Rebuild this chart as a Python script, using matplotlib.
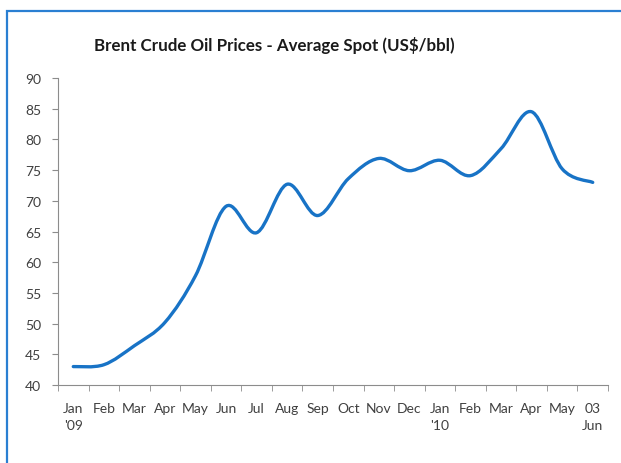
import numpy as np
import matplotlib
matplotlib.use("Agg")
import matplotlib.pyplot as plt
from matplotlib.path import Path
from matplotlib.patches import PathPatch, Rectangle

# monthly average spot, US$/bbl
months = ["Jan\n'09", "Feb", "Mar", "Apr", "May", "Jun", "Jul", "Aug", "Sep",
          "Oct", "Nov", "Dec", "Jan\n'10", "Feb", "Mar", "Apr", "May", "03\nJun"]
prices = [43.0, 43.3, 46.4, 50.2, 57.8, 69.1, 64.8, 72.7, 67.6,
          73.6, 76.9, 74.9, 76.6, 74.1, 78.5, 84.5, 75.2, 73.0]
y_ticks = [40, 45, 50, 55, 60, 65, 70, 75, 80, 85, 90]

line_col = "#1873c6"
text_col = "#404040"
axis_col = "#8c8c8c"

plt.rcParams['font.family'] = ['Lato', 'DejaVu Sans']


def smooth_path(xs, ys):
    # excel-style smoothed line: cubic bezier through every point
    pts = np.column_stack([xs, ys]).astype(float)
    n = len(pts)
    verts = [pts[0]]
    codes = [Path.MOVETO]
    for i in range(n - 1):
        p0 = pts[i - 1] if i > 0 else pts[i]
        p1 = pts[i]
        p2 = pts[i + 1]
        p3 = pts[i + 2] if i + 2 < n else pts[i + 1]
        verts += [p1 + (p2 - p0) / 6, p2 - (p3 - p1) / 6, p2]
        codes += [Path.CURVE4] * 3
    return Path(verts, codes)


fig = plt.figure(figsize=(6.21, 4.64), dpi=100)

# chart area border (runs off the right and bottom edge)
W, H = 621, 464
fig.patches.append(Rectangle((7 / W, -0.1), 1.2, 1 - 12 / H + 0.1,
                             transform=fig.transFigure, fill=False,
                             edgecolor="#2a7fd2", linewidth=1.6))

ax = fig.add_axes([58 / W, 1 - 386 / H, 550 / W, 307 / H])

x = np.arange(len(prices))
ax.add_patch(PathPatch(smooth_path(x, prices), facecolor="none",
                       edgecolor=line_col, linewidth=2.4,
                       capstyle="round", joinstyle="round"))

ax.set_xlim(-0.5, len(prices) - 0.5)
ax.set_ylim(40, 90)

ax.set_yticks(y_ticks)
ax.set_xticks(x)
ax.set_xticklabels(months)
ax.set_xticks(np.arange(len(prices) + 1) - 0.5, minor=True)

ax.tick_params(axis="x", which="major", length=0, pad=12,
               labelsize=10, labelcolor=text_col)
ax.tick_params(axis="x", which="minor", length=4, color=axis_col, direction="out")
ax.tick_params(axis="y", length=4, color=axis_col, direction="out",
               labelsize=10, labelcolor=text_col, pad=8)
for lab in ax.get_xticklabels():
    lab.set_linespacing(1.5)
    lab.set_verticalalignment("top")

for side in ["top", "right"]:
    ax.spines[side].set_visible(False)
for side in ["left", "bottom"]:
    ax.spines[side].set_color(axis_col)
    ax.spines[side].set_linewidth(0.8)

fig.text(274 / W, 1 - 45 / H, "Brent Crude Oil Prices - Average Spot (US$/bbl)",
         ha="center", va="center", fontsize=12.2, fontweight="bold",
         color="#1a1a1a")

fig.savefig("out.png", dpi=100)
